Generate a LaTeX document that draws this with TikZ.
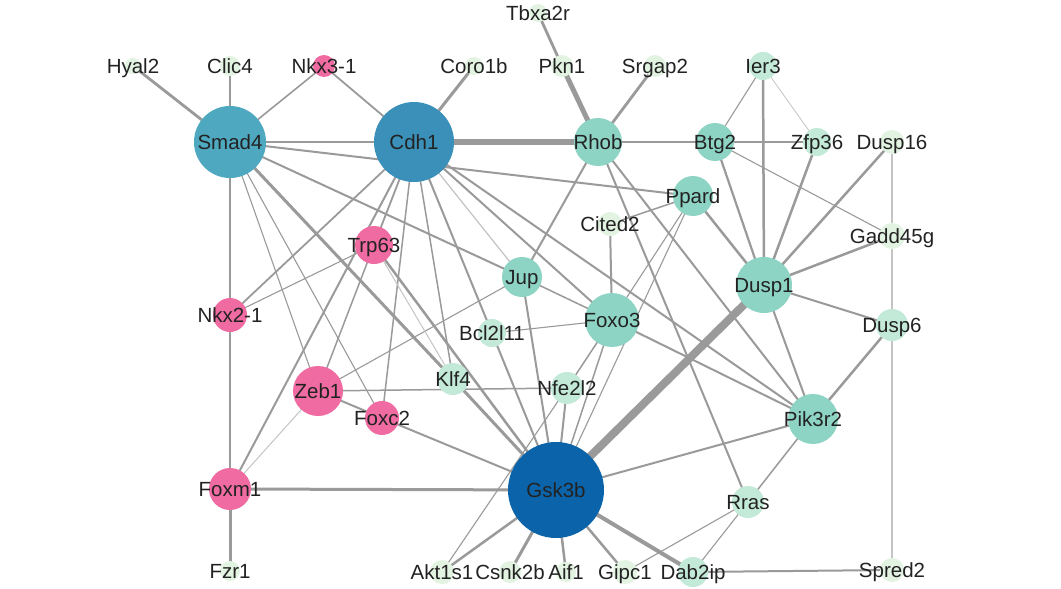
\documentclass[tikz,border=0pt]{standalone}
\usepackage{fontspec}
\setmainfont{Liberation Sans}
\usetikzlibrary{backgrounds}
\definecolor{cG}{HTML}{0B64A9}
\definecolor{cC}{HTML}{3A90B8}
\definecolor{cS}{HTML}{4EA9C0}
\definecolor{cP}{HTML}{EF6BA1}
\definecolor{cT}{HTML}{8DD4C4}
\definecolor{cM}{HTML}{C3E9D9}
\definecolor{cL}{HTML}{E2F3E1}
\definecolor{eg}{HTML}{9A9A9A}
\definecolor{el}{HTML}{C4C4C4}
\definecolor{txt}{HTML}{222222}
\begin{document}
\begin{tikzpicture}[x=1pt,y=-1pt,
  gn/.style 2 args={circle, draw=none, inner sep=0pt, minimum size=#1, fill=#2},
  lbl/.style={font=\fontsize{20.5}{24}\selectfont, text=txt, inner sep=0pt, text height=0.716em, text depth=0pt, anchor=center, yshift=-3.5pt},
  ed/.style={draw=eg, line width=#1},
  edl/.style={draw=el, line width=#1}]
\useasboundingbox (0,0) rectangle (1061,589);
% nodes (circles)
\node[gn={16}{cL}] (hyal2) at (133,66) {};
\node[gn={20}{cL}] (clic4) at (230,66) {};
\node[gn={22}{cP}] (nkx31) at (324,66) {};
\node[gn={18}{cL}] (coro1b) at (474,66) {};
\node[gn={18}{cL}] (tbxa2r) at (538,13) {};
\node[gn={22}{cL}] (pkn1) at (562,66) {};
\node[gn={22}{cL}] (srgap2) at (655,66) {};
\node[gn={28}{cM}] (ier3) at (763,66) {};
\node[gn={72}{cS}] (smad4) at (230,142) {};
\node[gn={80}{cC}] (cdh1) at (414,142) {};
\node[gn={48}{cT}] (rhob) at (598,142) {};
\node[gn={38}{cT}] (btg2) at (715,142) {};
\node[gn={28}{cM}] (zfp36) at (817,142) {};
\node[gn={24}{cL}] (dusp16) at (892,142) {};
\node[gn={40}{cT}] (ppard) at (693,196) {};
\node[gn={24}{cL}] (cited2) at (610,224) {};
\node[gn={26}{cL}] (gadd45g) at (892,236) {};
\node[gn={38}{cP}] (trp63) at (374,245) {};
\node[gn={40}{cT}] (jup) at (522,277) {};
\node[gn={56}{cT}] (dusp1) at (764,285) {};
\node[gn={34}{cP}] (nkx21) at (230,315) {};
\node[gn={54}{cT}] (foxo3) at (612,320) {};
\node[gn={32}{cM}] (dusp6) at (892,325) {};
\node[gn={28}{cM}] (bcl2l11) at (492,333) {};
\node[gn={32}{cM}] (klf4) at (453,379) {};
\node[gn={32}{cM}] (nfe2l2) at (567,388) {};
\node[gn={50}{cP}] (zeb1) at (318,391) {};
\node[gn={34}{cP}] (foxc2) at (382,418) {};
\node[gn={50}{cT}] (pik3r2) at (813,419) {};
\node[gn={42}{cP}] (foxm1) at (230,489) {};
\node[gn={96}{cG}] (gsk3b) at (556,490) {};
\node[gn={32}{cM}] (rras) at (748,502) {};
\node[gn={20}{cL}] (fzr1) at (230,571) {};
\node[gn={24}{cL}] (akt1s1) at (442,572) {};
\node[gn={22}{cL}] (csnk2b) at (510,572) {};
\node[gn={20}{cL}] (aif1) at (566,572) {};
\node[gn={24}{cL}] (gipc1) at (625,572) {};
\node[gn={30}{cM}] (dab2ip) at (693,572) {};
\node[gn={24}{cL}] (spred2) at (892,570) {};
% labels
\node[lbl] (t-hyal2) at (hyal2) {Hyal2};
\node[lbl] (t-clic4) at (clic4) {Clic4};
\node[lbl] (t-nkx31) at (nkx31) {Nkx3-1};
\node[lbl] (t-coro1b) at (coro1b) {Coro1b};
\node[lbl] (t-tbxa2r) at (tbxa2r) {Tbxa2r};
\node[lbl] (t-pkn1) at (pkn1) {Pkn1};
\node[lbl] (t-srgap2) at (srgap2) {Srgap2};
\node[lbl] (t-ier3) at (ier3) {Ier3};
\node[lbl] (t-smad4) at (smad4) {Smad4};
\node[lbl] (t-cdh1) at (cdh1) {Cdh1};
\node[lbl] (t-rhob) at (rhob) {Rhob};
\node[lbl] (t-btg2) at (btg2) {Btg2};
\node[lbl] (t-zfp36) at (zfp36) {Zfp36};
\node[lbl] (t-dusp16) at (dusp16) {Dusp16};
\node[lbl] (t-ppard) at (ppard) {Ppard};
\node[lbl] (t-cited2) at (cited2) {Cited2};
\node[lbl] (t-gadd45g) at (gadd45g) {Gadd45g};
\node[lbl] (t-trp63) at (trp63) {Trp63};
\node[lbl] (t-jup) at (jup) {Jup};
\node[lbl] (t-dusp1) at (dusp1) {Dusp1};
\node[lbl] (t-nkx21) at (nkx21) {Nkx2-1};
\node[lbl] (t-foxo3) at (foxo3) {Foxo3};
\node[lbl] (t-dusp6) at (dusp6) {Dusp6};
\node[lbl] (t-bcl2l11) at (bcl2l11) {Bcl2l11};
\node[lbl] (t-klf4) at (klf4) {Klf4};
\node[lbl] (t-nfe2l2) at (nfe2l2) {Nfe2l2};
\node[lbl] (t-zeb1) at (zeb1) {Zeb1};
\node[lbl] (t-foxc2) at (foxc2) {Foxc2};
\node[lbl] (t-pik3r2) at (pik3r2) {Pik3r2};
\node[lbl] (t-foxm1) at (foxm1) {Foxm1};
\node[lbl] (t-gsk3b) at (gsk3b) {Gsk3b};
\node[lbl] (t-rras) at (rras) {Rras};
\node[lbl] (t-fzr1) at (fzr1) {Fzr1};
\node[lbl] (t-akt1s1) at (akt1s1) {Akt1s1};
\node[lbl] (t-csnk2b) at (csnk2b) {Csnk2b};
\node[lbl] (t-aif1) at (aif1) {Aif1};
\node[lbl] (t-gipc1) at (gipc1) {Gipc1};
\node[lbl] (t-dab2ip) at (dab2ip) {Dab2ip};
\node[lbl] (t-spred2) at (spred2) {Spred2};
% edges
\begin{scope}[on background layer]
\fill[white] (0,0) rectangle (1061,589);
\draw[ed=2.8] (smad4.center) -- (hyal2.center);
\draw[ed=2.8] (smad4.center) -- (clic4.center);
\draw[ed=1.6] (smad4.center) -- (nkx31.center);
\draw[ed=2] (smad4.center) -- (cdh1.center);
\draw[ed=2] (smad4.center) -- (ppard.center);
\draw[ed=2] (smad4.center) -- (jup.center);
\draw[ed=3] (smad4.center) -- (klf4.center);
\draw[ed=1.1] (smad4.center) -- (zeb1.center);
\draw[ed=1.1] (smad4.center) -- (foxc2.center);
\draw[ed=1.6] (smad4.center) -- (nkx21.center);
\draw[ed=1.8] (cdh1.center) -- (nkx31.center);
\draw[ed=3] (cdh1.center) -- (coro1b.center);
\draw[ed=5.5] (cdh1.center) -- (rhob.center);
\draw[ed=1.8] (cdh1.center) -- (nkx21.center);
\draw[ed=1.8] (cdh1.center) -- (trp63.center);
\draw[ed=2] (cdh1.center) -- (foxm1.center);
\draw[ed=1.5] (cdh1.center) -- (foxc2.center);
\draw[ed=1.5] (cdh1.center) -- (klf4.center);
\draw[ed=2] (cdh1.center) -- (bcl2l11.center);
\draw[edl=1.2] (cdh1.center) -- (jup.center);
\draw[ed=2] (cdh1.center) -- (foxo3.center);
\draw[ed=2] (cdh1.center) -- (pik3r2.center);
\draw[ed=5] (rhob.center) -- (pkn1.center);
\draw[ed=2.8] (rhob.center) -- (srgap2.center);
\draw[ed=2] (rhob.center) -- (btg2.center);
\draw[ed=2] (rhob.center) -- (jup.center);
\draw[ed=2] (rhob.center) -- (rras.center);
\draw[ed=2] (rhob.center) -- (pik3r2.center);
\draw[ed=2.8] (tbxa2r.center) -- (pkn1.center);
\draw[ed=1.1] (btg2.center) -- (ier3.center);
\draw[ed=1.1] (btg2.center) -- (zfp36.center);
\draw[ed=1.1] (btg2.center) -- (gadd45g.center);
\draw[ed=2.2] (btg2.center) -- (dusp1.center);
\draw[ed=2.5] (ier3.center) -- (dusp1.center);
\draw[edl=0.8] (ier3.center) -- (zfp36.center);
\draw[ed=2.5] (zfp36.center) -- (dusp1.center);
\draw[ed=2.5] (dusp16.center) -- (dusp1.center);
\draw[ed=2.5] (gadd45g.center) -- (dusp1.center);
\draw[edl=1.6] (dusp16.center) -- (gadd45g.center);
\draw[edl=1.6] (gadd45g.center) -- (dusp6.center);
\draw[edl=1.6] (dusp6.center) -- (spred2.center);
\draw[ed=2] (dusp1.center) -- (dusp6.center);
\draw[ed=2] (dusp1.center) -- (pik3r2.center);
\draw[ed=8] (dusp1.center) -- (gsk3b.center);
\draw[ed=2.5] (dusp1.center) -- (ppard.center);
\draw[ed=1.5] (ppard.center) -- (cited2.center);
\draw[ed=1.1] (ppard.center) -- (foxo3.center);
\draw[ed=1.1] (ppard.center) -- (gsk3b.center);
\draw[ed=2] (cited2.center) -- (foxo3.center);
\draw[ed=1.5] (jup.center) -- (foxo3.center);
\draw[ed=2] (jup.center) -- (gsk3b.center);
\draw[ed=1.1] (jup.center) -- (zeb1.center);
\draw[ed=1.1] (foxo3.center) -- (bcl2l11.center);
\draw[ed=1.5] (foxo3.center) -- (nfe2l2.center);
\draw[ed=1.5] (foxo3.center) -- (gsk3b.center);
\draw[ed=2] (foxo3.center) -- (pik3r2.center);
\draw[ed=2.5] (pik3r2.center) -- (dusp6.center);
\draw[ed=2] (pik3r2.center) -- (gsk3b.center);
\draw[ed=1.5] (pik3r2.center) -- (rras.center);
\draw[ed=1.1] (rras.center) -- (gipc1.center);
\draw[ed=1.1] (rras.center) -- (dab2ip.center);
\draw[ed=4] (dab2ip.center) -- (gsk3b.center);
\draw[ed=2] (dab2ip.center) -- (spred2.center);
\draw[ed=2.5] (gsk3b.center) -- (gipc1.center);
\draw[ed=2.5] (gsk3b.center) -- (aif1.center);
\draw[ed=3] (gsk3b.center) -- (csnk2b.center);
\draw[ed=2.5] (gsk3b.center) -- (akt1s1.center);
\draw[ed=3] (gsk3b.center) -- (foxm1.center);
\draw[ed=2] (gsk3b.center) -- (foxc2.center);
\draw[ed=3] (gsk3b.center) -- (klf4.center);
\draw[ed=2.5] (gsk3b.center) -- (trp63.center);
\draw[ed=2] (gsk3b.center) -- (bcl2l11.center);
\draw[ed=2] (gsk3b.center) -- (nfe2l2.center);
\draw[ed=1.1] (akt1s1.center) -- (nfe2l2.center);
\draw[ed=1.5] (zeb1.center) -- (trp63.center);
\draw[ed=2] (zeb1.center) -- (foxc2.center);
\draw[ed=1.5] (zeb1.center) -- (nfe2l2.center);
\draw[edl=1] (zeb1.center) -- (foxm1.center);
\draw[ed=1.1] (trp63.center) -- (nkx21.center);
\draw[edl=1] (trp63.center) -- (klf4.center);
\draw[ed=1.6] (nkx21.center) -- (foxm1.center);
\draw[ed=3] (foxm1.center) -- (fzr1.center);
\end{scope}
\end{tikzpicture}
\end{document}
